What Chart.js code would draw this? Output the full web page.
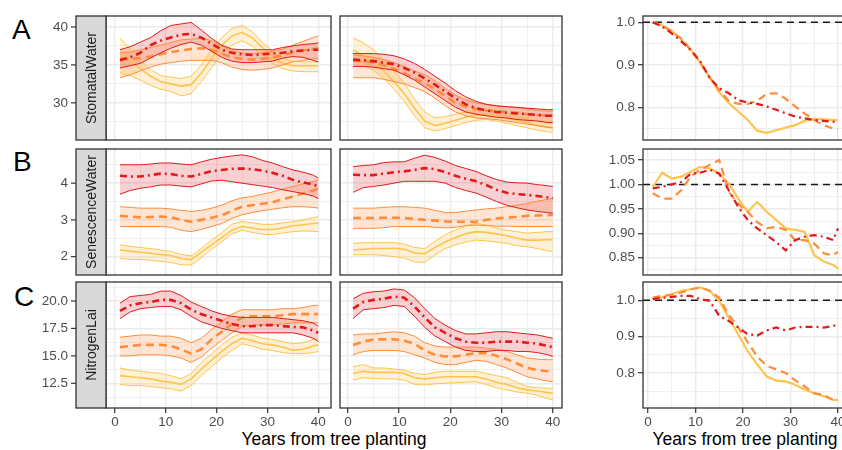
<!DOCTYPE html>
<html>
<head>
<meta charset="utf-8">
<script src="https://cdn.jsdelivr.net/npm/chart.js@4.4.1/dist/chart.umd.min.js"></script>
<style>
  html, body { margin: 0; padding: 0; background: #fff; }
  body { width: 842px; height: 450px; overflow: hidden; position: relative;
         font-family: "Liberation Sans", Arial, sans-serif; }
  canvas { position: absolute; }
  .tag { position: absolute; font-size: 28px; line-height: 1; color: #000; }
  .xtitle { position: absolute; font-size: 17.5px; line-height: 1; color: #000;
            white-space: nowrap; transform: translateX(-50%); }
</style>
</head>
<body>
<div class="tag" style="left:12px;top:16px">A</div>
<div class="tag" style="left:13px;top:148px">B</div>
<div class="tag" style="left:14px;top:283px">C</div>
<div class="xtitle" style="left:334px;top:431px">Years from tree planting</div>
<div class="xtitle" style="left:745px;top:431px">Years from tree planting</div>

<script>
// ─────────────────────────────────────────────────────────────────────────────
// DATA
// ─────────────────────────────────────────────────────────────────────────────

const years = [1, 3, 5, 7, 9, 11, 13, 15, 17, 19, 21, 23, 25, 27, 29, 31, 33, 35, 37, 39, 40];

const stripLabels = ['StomatalWater', 'SenescenceWater', 'NitrogenLai'];

const xMajor = [0, 10, 20, 30, 40];
const xMinor = [5, 15, 25, 35];
const xLabels = ['0', '10', '20', '30', '40'];

// y ticks, rows A/B/C, left+middle columns
const yMajorA = [30, 35, 40];
const yMinorA = [27.5, 32.5, 37.5];
const yLabelsA = ['30', '35', '40'];
const yMajorB = [2, 3, 4];
const yMinorB = [2.5, 3.5, 4.5];
const yLabelsB = ['2', '3', '4'];
const yMajorC = [12.5, 15, 17.5, 20];
const yMinorC = [11.25, 13.75, 16.25, 18.75, 21.25];
const yLabelsC = ['12.5', '15.0', '17.5', '20.0'];

// y ticks, right column (ratios)
const rMajorA = [0.8, 0.9, 1.0];
const rMinorA = [0.75, 0.85, 0.95];
const rLabelsA = ['0.8', '0.9', '1.0'];
const rMajorB = [0.85, 0.9, 0.95, 1.0, 1.05];
const rMinorB = [0.825, 0.875, 0.925, 0.975, 1.025];
const rLabelsB = ['0.85', '0.90', '0.95', '1.00', '1.05'];
const rMajorC = [0.8, 0.9, 1.0];
const rMinorC = [0.75, 0.85, 0.95];
const rLabelsC = ['0.8', '0.9', '1.0'];
const ratioRef = 1.0;

// Row A – StomatalWater, left panel
const aLRed      = [35.6, 36.0, 36.6, 37.6, 38.2, 38.6, 39.0, 39.1, 38.6, 37.8, 37.0, 36.6, 36.4, 36.3, 36.4, 36.5, 36.6, 36.8, 36.9, 37.0, 37.0];
const aLRedHi    = [37.0, 37.4, 38.0, 38.6, 39.5, 40.2, 40.4, 40.6, 39.6, 38.5, 37.6, 37.1, 37.0, 37.0, 37.0, 37.0, 37.3, 37.5, 37.7, 37.8, 37.9];
const aLRedLo    = [34.6, 34.9, 35.2, 35.9, 36.6, 37.2, 37.7, 38.0, 37.6, 36.8, 36.0, 35.5, 35.3, 35.3, 35.4, 35.5, 35.9, 36.1, 36.0, 35.6, 35.4];
const aLOrange   = [35.8, 35.8, 35.9, 36.1, 36.4, 36.7, 36.9, 37.1, 37.2, 37.0, 36.5, 36.0, 35.8, 35.7, 35.8, 36.0, 36.3, 36.6, 36.9, 37.1, 37.2];
const aLOrangeHi = [36.6, 36.7, 37.0, 37.3, 37.6, 38.0, 38.3, 38.4, 38.5, 38.2, 37.5, 36.9, 36.6, 36.5, 36.6, 36.8, 37.1, 37.6, 38.1, 38.6, 38.8];
const aLOrangeLo = [33.3, 33.7, 34.2, 34.7, 35.1, 35.3, 35.5, 35.6, 35.6, 35.6, 35.3, 34.7, 34.4, 34.3, 34.4, 34.6, 35.0, 35.4, 35.6, 35.8, 35.8];
const aLYellow   = [36.6, 35.5, 34.5, 33.5, 32.8, 32.5, 32.2, 32.4, 33.9, 35.8, 37.6, 38.8, 39.3, 38.6, 37.3, 36.0, 35.2, 34.9, 34.9, 34.9, 34.9];
const aLYellowHi = [38.5, 37.2, 35.6, 34.4, 33.6, 33.4, 33.2, 33.5, 35.0, 37.0, 38.6, 39.8, 40.2, 39.4, 38.0, 36.8, 35.9, 35.5, 35.4, 35.4, 35.4];
const aLYellowLo = [34.0, 33.6, 33.0, 32.3, 31.8, 31.5, 30.9, 31.2, 32.8, 34.6, 36.4, 37.6, 38.2, 37.5, 36.2, 35.2, 34.5, 34.2, 34.1, 34.1, 34.1];

// Row A – StomatalWater, middle panel
const aMRed      = [35.7, 35.6, 35.5, 35.3, 35.1, 34.6, 34.0, 33.2, 32.4, 31.5, 30.6, 29.8, 29.3, 29.0, 28.8, 28.7, 28.6, 28.5, 28.4, 28.3, 28.3];
const aMRedHi    = [36.5, 36.5, 36.5, 36.4, 36.2, 35.8, 35.2, 34.4, 33.5, 32.6, 31.6, 30.8, 30.2, 29.8, 29.6, 29.5, 29.4, 29.3, 29.2, 29.1, 29.1];
const aMRedLo    = [34.8, 34.8, 34.7, 34.5, 34.3, 33.7, 33.0, 32.1, 31.2, 30.3, 29.4, 28.8, 28.5, 28.3, 28.1, 28.0, 27.8, 27.7, 27.6, 27.4, 27.4];
const aMOrange   = [35.6, 35.5, 35.3, 35.0, 34.5, 33.9, 33.2, 32.6, 31.8, 30.9, 30.0, 29.5, 29.2, 29.0, 28.9, 28.8, 28.7, 28.5, 28.4, 28.3, 28.3];
const aMOrangeHi = [36.3, 36.2, 36.0, 35.7, 35.3, 34.8, 34.2, 33.7, 32.9, 31.9, 31.0, 30.4, 30.0, 29.8, 29.6, 29.5, 29.4, 29.2, 29.0, 28.9, 28.9];
const aMOrangeLo = [33.3, 33.3, 33.3, 33.1, 32.8, 32.5, 32.0, 31.5, 30.6, 29.6, 28.8, 28.3, 28.0, 27.9, 27.8, 27.6, 27.4, 27.2, 27.0, 26.8, 26.7];
const aMYellow   = [37.0, 36.2, 35.3, 34.2, 32.8, 31.2, 29.3, 27.6, 27.0, 27.3, 27.7, 28.1, 28.4, 28.5, 28.3, 28.0, 27.7, 27.4, 27.0, 26.8, 26.7];
const aMYellowHi = [38.6, 37.9, 37.0, 35.6, 34.2, 32.6, 30.5, 28.8, 28.0, 28.2, 28.5, 28.8, 29.0, 29.2, 29.0, 28.7, 28.3, 28.0, 27.7, 27.5, 27.4];
const aMYellowLo = [35.5, 35.0, 34.3, 33.2, 31.8, 30.2, 28.3, 26.7, 26.3, 26.6, 27.0, 27.4, 27.7, 27.8, 27.6, 27.3, 27.0, 26.7, 26.4, 26.2, 26.1];

// Row B – SenescenceWater, left panel
const bLRed      = [4.20, 4.18, 4.18, 4.22, 4.26, 4.25, 4.20, 4.18, 4.25, 4.33, 4.36, 4.39, 4.40, 4.38, 4.34, 4.28, 4.20, 4.09, 4.02, 3.96, 3.91];
const bLRedHi    = [4.50, 4.50, 4.50, 4.52, 4.55, 4.55, 4.52, 4.50, 4.58, 4.65, 4.70, 4.74, 4.77, 4.72, 4.62, 4.55, 4.45, 4.36, 4.30, 4.22, 4.14];
const bLRedLo    = [3.70, 3.80, 3.86, 3.90, 3.95, 3.95, 3.92, 3.90, 3.98, 4.06, 4.08, 4.04, 4.00, 3.96, 3.92, 3.88, 3.82, 3.77, 3.72, 3.65, 3.58];
const bLOrange   = [3.11, 3.09, 3.07, 3.08, 3.09, 3.07, 3.00, 2.95, 3.00, 3.06, 3.12, 3.25, 3.36, 3.40, 3.44, 3.48, 3.56, 3.64, 3.72, 3.80, 3.85];
const bLOrangeHi = [3.36, 3.34, 3.32, 3.32, 3.32, 3.30, 3.26, 3.23, 3.26, 3.32, 3.40, 3.52, 3.60, 3.64, 3.70, 3.76, 3.84, 3.91, 3.98, 4.05, 4.09];
const bLOrangeLo = [2.82, 2.82, 2.82, 2.82, 2.82, 2.80, 2.72, 2.68, 2.74, 2.82, 2.90, 3.04, 3.14, 3.20, 3.25, 3.29, 3.33, 3.36, 3.36, 3.34, 3.32];
const bLYellow   = [2.18, 2.15, 2.12, 2.09, 2.06, 2.03, 1.95, 1.92, 2.12, 2.32, 2.52, 2.72, 2.82, 2.78, 2.74, 2.74, 2.78, 2.84, 2.87, 2.90, 2.91];
const bLYellowHi = [2.32, 2.28, 2.25, 2.22, 2.18, 2.14, 2.06, 2.02, 2.22, 2.45, 2.65, 2.88, 2.96, 2.92, 2.88, 2.88, 2.92, 2.95, 3.00, 3.06, 3.09];
const bLYellowLo = [1.95, 1.93, 1.92, 1.90, 1.87, 1.84, 1.78, 1.77, 1.97, 2.20, 2.40, 2.62, 2.72, 2.66, 2.61, 2.60, 2.64, 2.68, 2.70, 2.69, 2.68];

// Row B – SenescenceWater, middle panel
const bMRed      = [4.23, 4.22, 4.22, 4.26, 4.30, 4.32, 4.36, 4.41, 4.38, 4.30, 4.20, 4.12, 4.05, 3.95, 3.82, 3.74, 3.70, 3.68, 3.65, 3.61, 3.59];
const bMRedHi    = [4.45, 4.48, 4.50, 4.56, 4.58, 4.58, 4.68, 4.76, 4.70, 4.60, 4.48, 4.40, 4.32, 4.20, 4.10, 4.03, 4.01, 4.00, 3.96, 3.93, 3.91];
const bMRedLo    = [3.75, 3.88, 3.91, 3.95, 4.00, 4.05, 4.05, 4.05, 4.05, 4.00, 3.88, 3.80, 3.73, 3.62, 3.50, 3.40, 3.33, 3.27, 3.23, 3.20, 3.18];
const bMOrange   = [3.05, 3.05, 3.05, 3.06, 3.06, 3.05, 3.03, 3.00, 2.98, 2.96, 2.95, 2.95, 2.95, 3.00, 3.04, 3.06, 3.08, 3.11, 3.12, 3.13, 3.14];
const bMOrangeHi = [3.32, 3.32, 3.32, 3.34, 3.36, 3.36, 3.34, 3.32, 3.26, 3.20, 3.20, 3.24, 3.27, 3.30, 3.32, 3.36, 3.40, 3.45, 3.51, 3.56, 3.59];
const bMOrangeLo = [2.77, 2.77, 2.77, 2.79, 2.82, 2.82, 2.82, 2.82, 2.80, 2.78, 2.80, 2.84, 2.86, 2.85, 2.83, 2.83, 2.82, 2.82, 2.82, 2.82, 2.82];
const bMYellow   = [2.18, 2.20, 2.22, 2.22, 2.23, 2.20, 2.10, 2.08, 2.25, 2.40, 2.52, 2.62, 2.68, 2.66, 2.62, 2.57, 2.50, 2.45, 2.45, 2.46, 2.46];
const bMYellowHi = [2.36, 2.38, 2.38, 2.38, 2.38, 2.34, 2.25, 2.22, 2.42, 2.60, 2.72, 2.84, 2.91, 2.86, 2.78, 2.72, 2.68, 2.64, 2.66, 2.68, 2.68];
const bMYellowLo = [2.05, 2.05, 2.05, 2.03, 2.00, 1.96, 1.86, 1.84, 2.05, 2.22, 2.32, 2.40, 2.45, 2.43, 2.40, 2.36, 2.30, 2.27, 2.22, 2.16, 2.14];

// Row C – NitrogenLai, left panel
const cLRed      = [19.1, 19.6, 19.8, 19.9, 20.1, 20.1, 19.8, 19.2, 18.8, 18.5, 18.2, 17.9, 17.7, 17.7, 17.8, 17.8, 17.7, 17.65, 17.6, 17.3, 17.1];
const cLRedHi    = [19.8, 20.4, 20.5, 20.6, 20.9, 20.9, 20.5, 19.9, 19.5, 19.1, 18.8, 18.6, 18.5, 18.5, 18.5, 18.5, 18.4, 18.3, 18.2, 18.0, 17.7];
const cLRedLo    = [18.4, 19.0, 19.3, 19.4, 19.5, 19.5, 19.2, 18.6, 18.1, 17.8, 17.5, 17.3, 17.1, 17.1, 17.1, 17.1, 17.1, 17.1, 16.9, 16.6, 16.3];
const cLOrange   = [15.8, 15.9, 16.0, 16.0, 16.0, 15.9, 15.6, 15.2, 15.6, 16.5, 17.2, 17.9, 18.5, 18.6, 18.6, 18.6, 18.7, 18.8, 18.8, 18.8, 18.8];
const cLOrangeHi = [16.7, 16.8, 16.9, 16.9, 16.8, 16.8, 16.6, 16.2, 16.6, 17.4, 18.1, 18.8, 19.2, 19.2, 19.2, 19.2, 19.3, 19.3, 19.4, 19.6, 19.6];
const cLOrangeLo = [15.0, 15.0, 15.1, 15.1, 15.1, 15.0, 14.8, 14.4, 14.9, 15.7, 16.4, 17.1, 17.7, 17.8, 17.8, 17.8, 17.9, 18.0, 18.0, 18.0, 18.0];
const cLYellow   = [13.2, 13.1, 13.0, 12.9, 12.7, 12.6, 12.4, 12.9, 13.8, 14.6, 15.4, 16.1, 16.6, 16.4, 16.1, 16.0, 15.8, 15.5, 15.6, 15.9, 16.0];
const cLYellowHi = [13.9, 13.7, 13.6, 13.5, 13.4, 13.2, 12.9, 13.4, 14.4, 15.2, 16.0, 16.7, 17.1, 16.9, 16.6, 16.5, 16.3, 16.1, 16.2, 16.5, 16.6];
const cLYellowLo = [12.4, 12.3, 12.3, 12.2, 12.1, 12.0, 11.8, 12.3, 13.2, 14.0, 14.8, 15.5, 16.1, 15.9, 15.6, 15.5, 15.3, 15.2, 15.2, 15.3, 15.4];

// Row C – NitrogenLai, middle panel
const cMRed      = [19.3, 19.9, 20.1, 20.2, 20.4, 20.3, 19.5, 18.5, 17.6, 17.1, 16.6, 16.3, 16.2, 16.2, 16.3, 16.3, 16.3, 16.2, 16.1, 15.9, 15.8];
const cMRedHi    = [20.2, 20.7, 20.85, 20.9, 21.1, 21.0, 20.3, 19.3, 18.4, 17.8, 17.3, 17.0, 17.0, 17.1, 17.2, 17.2, 17.1, 17.0, 16.9, 16.7, 16.6];
const cMRedLo    = [18.4, 19.2, 19.3, 19.4, 19.6, 19.5, 18.6, 17.6, 16.8, 16.3, 15.8, 15.5, 15.4, 15.4, 15.5, 15.5, 15.4, 15.4, 15.3, 15.1, 14.95];
const cMOrange   = [16.0, 16.3, 16.5, 16.5, 16.5, 16.4, 16.1, 15.5, 15.1, 14.95, 14.95, 15.1, 15.25, 15.25, 15.0, 14.7, 14.3, 13.9, 13.7, 13.6, 13.6];
const cMOrangeHi = [16.9, 17.0, 17.0, 17.1, 17.2, 17.1, 16.8, 16.2, 15.9, 15.8, 15.8, 15.8, 15.8, 15.7, 15.6, 15.4, 15.1, 14.8, 14.7, 14.65, 14.65];
const cMOrangeLo = [15.1, 15.4, 15.5, 15.5, 15.5, 15.4, 15.1, 14.8, 14.4, 14.2, 14.2, 14.4, 14.6, 14.5, 14.2, 13.9, 13.5, 13.1, 12.9, 12.7, 12.65];
const cMYellow   = [13.4, 13.6, 13.5, 13.5, 13.5, 13.4, 13.0, 12.9, 13.0, 13.1, 13.1, 13.1, 13.1, 12.9, 12.6, 12.4, 12.1, 11.9, 11.8, 11.65, 11.6];
const cMYellowHi = [14.0, 14.2, 13.9, 13.9, 13.8, 13.7, 13.4, 13.3, 13.5, 13.6, 13.6, 13.6, 13.6, 13.4, 13.2, 13.0, 12.6, 12.2, 12.1, 12.05, 12.05];
const cMYellowLo = [12.8, 13.0, 12.95, 12.9, 12.9, 12.8, 12.4, 12.35, 12.45, 12.5, 12.55, 12.6, 12.65, 12.4, 12.1, 11.9, 11.7, 11.6, 11.4, 11.1, 11.0];

// Right column – ratios
const aRRed    = [1.0, 0.99, 0.974, 0.955, 0.935, 0.908, 0.869, 0.845, 0.833, 0.817, 0.811, 0.808, 0.802, 0.794, 0.786, 0.778, 0.774, 0.77, 0.768, 0.766, 0.765];
const aROrange = [1.0, 0.992, 0.978, 0.962, 0.935, 0.905, 0.87, 0.84, 0.815, 0.808, 0.808, 0.815, 0.832, 0.833, 0.82, 0.802, 0.785, 0.77, 0.758, 0.75, 0.748];
const aRYellow = [1.0, 0.993, 0.98, 0.96, 0.935, 0.905, 0.87, 0.835, 0.81, 0.79, 0.77, 0.745, 0.74, 0.746, 0.752, 0.758, 0.768, 0.773, 0.772, 0.77, 0.77];

const bRRed    = [0.992, 0.995, 1.0, 1.005, 1.022, 1.024, 1.03, 1.022, 0.988, 0.954, 0.927, 0.91, 0.896, 0.882, 0.865, 0.886, 0.893, 0.896, 0.893, 0.886, 0.91];
const bROrange = [0.982, 0.971, 0.971, 0.988, 1.016, 1.03, 1.04, 1.05, 0.985, 0.96, 0.944, 0.923, 0.91, 0.913, 0.907, 0.886, 0.886, 0.879, 0.859, 0.855, 0.862];
const bRYellow = [0.995, 1.024, 1.012, 1.016, 1.026, 1.036, 1.033, 1.022, 1.002, 0.971, 0.944, 0.964, 0.944, 0.927, 0.91, 0.907, 0.903, 0.855, 0.842, 0.835, 0.828];

const cRRed    = [1.003, 1.007, 1.009, 1.012, 1.012, 1.003, 0.998, 0.957, 0.943, 0.925, 0.907, 0.903, 0.917, 0.925, 0.917, 0.925, 0.927, 0.927, 0.925, 0.929, 0.934];
const cROrange = [1.007, 1.012, 1.015, 1.021, 1.03, 1.035, 1.026, 1.007, 0.96, 0.925, 0.885, 0.845, 0.82, 0.81, 0.8, 0.78, 0.763, 0.744, 0.74, 0.726, 0.726];
const cRYellow = [1.003, 1.008, 1.017, 1.026, 1.03, 1.035, 1.026, 0.998, 0.952, 0.906, 0.86, 0.823, 0.791, 0.779, 0.777, 0.768, 0.754, 0.745, 0.736, 0.726, 0.726];

// ─────────────────────────────────────────────────────────────────────────────
// STYLE
// ─────────────────────────────────────────────────────────────────────────────

const FONT = '"Liberation Sans", Arial, sans-serif';
const RED = '#E31A1C', ORANGE = '#FD8D3C', YELLOW = '#FEC44F';
const RED_FILL = 'rgba(227,26,28,0.2)';
const ORANGE_FILL = 'rgba(253,141,60,0.22)';
const YELLOW_FILL = 'rgba(254,196,79,0.24)';
const DASH_RED = [7, 4, 2, 4];
const DASH_ORANGE = [8, 5];
const GRID = '#ebebeb';
const AXIS_TEXT = '#4d4d4d';
const STRIP_W = 30;
const TICK_SIZE = 13.5;

// plot-area rectangles (page pixels)
const COL_X = [[106, 331], [340, 562], [643, 847]];
const ROW_Y = [[16, 140], [149, 275], [282, 408]];
const COL_XRANGE = [[-1.75, 42.5], [-1.55, 41.8], [-1.05, 41.9]];

Chart.defaults.font.family = FONT;

// ─────────────────────────────────────────────────────────────────────────────
// HELPERS
// ─────────────────────────────────────────────────────────────────────────────

function pts(values) {
  return years.map((x, i) => ({ x, y: values[i] }));
}

function band(color, fill, mean, lo, hi, width, dash) {
  return [
    { data: pts(hi), borderColor: color, borderWidth: 1, backgroundColor: fill, fill: '+1' },
    { data: pts(lo), borderColor: color, borderWidth: 1, fill: false },
    { data: pts(mean), borderColor: color, borderWidth: width, borderDash: dash, fill: false }
  ];
}

function ratioLine(color, values, dash) {
  return { data: pts(values), borderColor: color, borderWidth: 2.2, borderDash: dash, fill: false };
}

const panelDecor = {
  id: 'panelDecor',
  beforeDatasetsDraw(chart, args, opts) {
    if (opts.refLine == null) return;
    const { ctx, chartArea: a } = chart;
    const py = chart.scales.y.getPixelForValue(opts.refLine);
    ctx.save();
    ctx.strokeStyle = '#1a1a1a';
    ctx.lineWidth = 1.5;
    ctx.setLineDash([7, 5]);
    ctx.beginPath();
    ctx.moveTo(a.left, py);
    ctx.lineTo(a.right, py);
    ctx.stroke();
    ctx.restore();
  },
  afterDraw(chart, args, opts) {
    const { ctx, chartArea: a } = chart;
    const h = a.bottom - a.top;
    ctx.save();
    ctx.strokeStyle = '#333';
    ctx.lineWidth = 1.3;
    ctx.strokeRect(a.left, a.top, a.right - a.left, h);
    if (opts.strip) {
      const x0 = a.left - STRIP_W;
      ctx.fillStyle = '#d9d9d9';
      ctx.fillRect(x0, a.top, STRIP_W, h);
      ctx.strokeRect(x0, a.top, STRIP_W, h);
      // tick marks sit left of the strip
      ctx.lineWidth = 1.2;
      opts.majors.forEach(v => {
        const py = chart.scales.y.getPixelForValue(v);
        ctx.beginPath();
        ctx.moveTo(x0 - 5, py);
        ctx.lineTo(x0, py);
        ctx.stroke();
      });
      ctx.save();
      ctx.translate(x0 + STRIP_W / 2, a.top + h / 2);
      ctx.rotate(-Math.PI / 2);
      ctx.fillStyle = '#1a1a1a';
      ctx.font = '14px ' + FONT;
      ctx.textAlign = 'center';
      ctx.textBaseline = 'middle';
      ctx.fillText(opts.strip, 0, 1);
      ctx.restore();
    }
    ctx.restore();
  }
};

function makePanel(col, row, cfg) {
  const [pl, pr] = COL_X[col];
  const [pt, pb] = ROW_Y[row];
  const showX = row === 2;
  const leftM = col === 0 ? pl : (col === 2 ? 60 : 14);
  const topM = 14, rightM = 10;
  const bottomM = showX ? 30 : 14;

  const canvas = document.createElement('canvas');
  const w = leftM + (pr - pl) + rightM;
  const hgt = topM + (pb - pt) + bottomM;
  canvas.width = w; canvas.height = hgt;
  canvas.style.width = w + 'px'; canvas.style.height = hgt + 'px';
  canvas.style.left = (pl - leftM) + 'px';
  canvas.style.top = (pt - topM) + 'px';
  document.body.appendChild(canvas);

  const yAll = cfg.yMajor.concat(cfg.yMinor).sort((p, q) => p - q);
  const xAll = xMajor.concat(xMinor).sort((p, q) => p - q);
  const isMajorX = v => xMajor.includes(v);
  const isMajorY = v => cfg.yMajor.includes(v);

  return new Chart(canvas, {
    type: 'line',
    data: { datasets: cfg.datasets },
    options: {
      responsive: false,
      animation: false,
      devicePixelRatio: 1,
      layout: { padding: { top: topM, right: rightM, left: 0, bottom: 0 } },
      elements: { point: { radius: 0 }, line: { tension: 0, borderCapStyle: 'butt' } },
      plugins: {
        legend: { display: false },
        tooltip: { enabled: false },
        filler: { drawTime: 'beforeDatasetsDraw' },
        panelDecor: { strip: col === 0 ? stripLabels[row] : null, majors: cfg.yMajor, refLine: cfg.refLine }
      },
      scales: {
        x: {
          type: 'linear',
          min: COL_XRANGE[col][0],
          max: COL_XRANGE[col][1],
          afterBuildTicks: s => { s.ticks = xAll.map(v => ({ value: v })); },
          afterFit: s => { s.height = bottomM; },
          border: { display: false },
          grid: {
            color: GRID,
            lineWidth: c => (c.tick && isMajorX(c.tick.value)) ? 1.4 : 0.8,
            drawTicks: showX,
            tickLength: 5,
            tickWidth: 1.2,
            tickColor: c => (c.tick && isMajorX(c.tick.value)) ? '#333' : 'rgba(0,0,0,0)'
          },
          ticks: {
            display: showX,
            autoSkip: false,
            maxRotation: 0,
            padding: 1,
            color: AXIS_TEXT,
            font: { size: TICK_SIZE },
            callback: v => { const i = xMajor.indexOf(v); return i >= 0 ? xLabels[i] : ''; }
          }
        },
        y: {
          type: 'linear',
          min: cfg.yMin,
          max: cfg.yMax,
          afterBuildTicks: s => { s.ticks = yAll.map(v => ({ value: v })); },
          afterFit: s => { s.width = leftM; },
          border: { display: false },
          grid: {
            color: GRID,
            lineWidth: c => (c.tick && isMajorY(c.tick.value)) ? 1.4 : 0.8,
            drawTicks: col !== 1,
            // left column: long invisible tick pushes labels past the strip
            tickLength: col === 0 ? STRIP_W + 5 : 5,
            tickWidth: 1.2,
            tickColor: c => (col === 2 && c.tick && isMajorY(c.tick.value)) ? '#333' : 'rgba(0,0,0,0)'
          },
          ticks: {
            display: col !== 1,
            autoSkip: false,
            padding: 3,
            color: AXIS_TEXT,
            font: { size: TICK_SIZE },
            callback: v => { const i = cfg.yMajor.indexOf(v); return i >= 0 ? cfg.yLabels[i] : ''; }
          }
        }
      }
    },
    plugins: [panelDecor]
  });
}

// ─────────────────────────────────────────────────────────────────────────────
// PANELS
// ─────────────────────────────────────────────────────────────────────────────

const rowA = { yMin: 25.1, yMax: 41.45, yMajor: yMajorA, yMinor: yMinorA, yLabels: yLabelsA };
const rowB = { yMin: 1.5, yMax: 4.93, yMajor: yMajorB, yMinor: yMinorB, yLabels: yLabelsB };
const rowC = { yMin: 10.25, yMax: 21.73, yMajor: yMajorC, yMinor: yMinorC, yLabels: yLabelsC };

makePanel(0, 0, Object.assign({}, rowA, { datasets: [].concat(
  band(RED, RED_FILL, aLRed, aLRedLo, aLRedHi, 2.6, DASH_RED),
  band(ORANGE, ORANGE_FILL, aLOrange, aLOrangeLo, aLOrangeHi, 2.6, DASH_ORANGE),
  band(YELLOW, YELLOW_FILL, aLYellow, aLYellowLo, aLYellowHi, 1.6, []))
}));
makePanel(1, 0, Object.assign({}, rowA, { datasets: [].concat(
  band(RED, RED_FILL, aMRed, aMRedLo, aMRedHi, 2.6, DASH_RED),
  band(ORANGE, ORANGE_FILL, aMOrange, aMOrangeLo, aMOrangeHi, 2.6, DASH_ORANGE),
  band(YELLOW, YELLOW_FILL, aMYellow, aMYellowLo, aMYellowHi, 1.6, []))
}));
makePanel(0, 1, Object.assign({}, rowB, { datasets: [].concat(
  band(RED, RED_FILL, bLRed, bLRedLo, bLRedHi, 2.6, DASH_RED),
  band(ORANGE, ORANGE_FILL, bLOrange, bLOrangeLo, bLOrangeHi, 2.6, DASH_ORANGE),
  band(YELLOW, YELLOW_FILL, bLYellow, bLYellowLo, bLYellowHi, 1.6, []))
}));
makePanel(1, 1, Object.assign({}, rowB, { datasets: [].concat(
  band(RED, RED_FILL, bMRed, bMRedLo, bMRedHi, 2.6, DASH_RED),
  band(ORANGE, ORANGE_FILL, bMOrange, bMOrangeLo, bMOrangeHi, 2.6, DASH_ORANGE),
  band(YELLOW, YELLOW_FILL, bMYellow, bMYellowLo, bMYellowHi, 1.6, []))
}));
makePanel(0, 2, Object.assign({}, rowC, { datasets: [].concat(
  band(RED, RED_FILL, cLRed, cLRedLo, cLRedHi, 2.6, DASH_RED),
  band(ORANGE, ORANGE_FILL, cLOrange, cLOrangeLo, cLOrangeHi, 2.6, DASH_ORANGE),
  band(YELLOW, YELLOW_FILL, cLYellow, cLYellowLo, cLYellowHi, 1.6, []))
}));
makePanel(1, 2, Object.assign({}, rowC, { datasets: [].concat(
  band(RED, RED_FILL, cMRed, cMRedLo, cMRedHi, 2.6, DASH_RED),
  band(ORANGE, ORANGE_FILL, cMOrange, cMOrangeLo, cMOrangeHi, 2.6, DASH_ORANGE),
  band(YELLOW, YELLOW_FILL, cMYellow, cMYellowLo, cMYellowHi, 1.6, []))
}));

makePanel(2, 0, { yMin: 0.723, yMax: 1.0148, yMajor: rMajorA, yMinor: rMinorA, yLabels: rLabelsA, refLine: ratioRef,
  datasets: [ratioLine(RED, aRRed, DASH_RED), ratioLine(ORANGE, aROrange, DASH_ORANGE), ratioLine(YELLOW, aRYellow, [])] });
makePanel(2, 1, { yMin: 0.8146, yMax: 1.0725, yMajor: rMajorB, yMinor: rMinorB, yLabels: rLabelsB, refLine: ratioRef,
  datasets: [ratioLine(RED, bRRed, DASH_RED), ratioLine(ORANGE, bROrange, DASH_ORANGE), ratioLine(YELLOW, bRYellow, [])] });
makePanel(2, 2, { yMin: 0.704, yMax: 1.05, yMajor: rMajorC, yMinor: rMinorC, yLabels: rLabelsC, refLine: ratioRef,
  datasets: [ratioLine(RED, cRRed, DASH_RED), ratioLine(ORANGE, cROrange, DASH_ORANGE), ratioLine(YELLOW, cRYellow, [])] });
</script>
</body>
</html>
